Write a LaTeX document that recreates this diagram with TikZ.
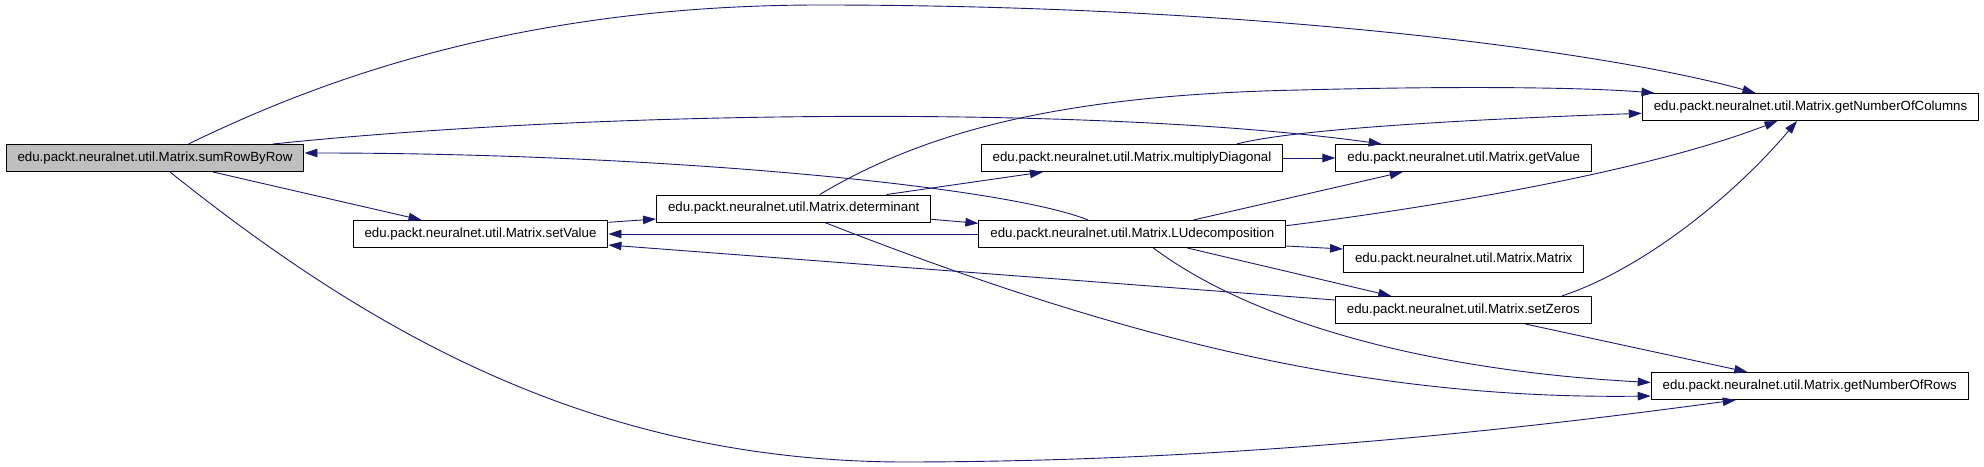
\documentclass[tikz,border=0pt]{standalone}
\usepackage{fontspec}
\setmainfont{Liberation Sans}
\usepackage{tikz}
\usetikzlibrary{arrows.meta}
\definecolor{edgeblue}{HTML}{191970}
\definecolor{callgray}{HTML}{BFBFBF}

\begin{document}
\begin{tikzpicture}[x=1pt,y=-1pt,
    method/.style={draw=black,line width=1pt,fill=white,minimum height=27pt,
        inner xsep=11.5pt,inner ysep=0pt,font=\fontsize{13.3}{16}\selectfont},
    call/.style={draw=edgeblue,line width=0.9pt,-{Triangle[length=13pt,width=8.5pt]}}]
\useasboundingbox (0,0) rectangle (1984,466);
\node[method,fill=callgray] (sum) at (155,158) {edu.packt.neuralnet.util.Matrix.sumRowByRow};
\node[method] (setv) at (480.5,234) {edu.packt.neuralnet.util.Matrix.setValue};
\node[method] (det) at (793.7,208.5) {edu.packt.neuralnet.util.Matrix.determinant};
\node[method] (mul) at (1132,158) {edu.packt.neuralnet.util.Matrix.multiplyDiagonal};
\node[method] (getv) at (1463.7,158) {edu.packt.neuralnet.util.Matrix.getValue};
\node[method] (lud) at (1132.3,234) {edu.packt.neuralnet.util.Matrix.LUdecomposition};
\node[method] (mat) at (1463.7,259) {edu.packt.neuralnet.util.Matrix.Matrix};
\node[method] (zeros) at (1463.3,310) {edu.packt.neuralnet.util.Matrix.setZeros};
\node[method] (cols) at (1810.5,107) {edu.packt.neuralnet.util.Matrix.getNumberOfColumns};
\node[method] (rows) at (1809.8,386) {edu.packt.neuralnet.util.Matrix.getNumberOfRows};

\draw[call] ([xshift=33.5pt]sum.north) .. controls (320,80) and (520,5) .. (820,5)
    .. controls (1250,5) and (1600,50) .. ([xshift=-55pt]cols.north);
\draw[call] ([xshift=118pt]sum.north) .. controls (600,110) and (1100,105) .. ([xshift=-82pt]getv.north);
\draw[call] ([xshift=-44pt]lud.north) .. controls (1000,185) and (650,153) .. ([yshift=5pt]sum.east);
\draw[call] ([xshift=58pt]sum.south) -- ([xshift=-59pt]setv.north);
\draw[call] ([xshift=15pt]sum.south) .. controls (380,340) and (600,460) .. (900,462)
    .. controls (1250,462) and (1550,425) .. ([xshift=-74pt]rows.south);
\draw[call] ([yshift=11.7pt]setv.east) -- ([yshift=-10.5pt]det.west);
\draw[call] ([xshift=26pt]det.north) .. controls (920,135) and (1050,95) .. (1300,90)
    .. controls (1450,86) and (1580,87) .. ([xshift=-156pt]cols.north);
\draw[call] ([xshift=93pt]det.north) -- ([xshift=-89pt]mul.south);
\draw[call] ([yshift=-10.8pt]det.east) -- ([yshift=10.7pt]lud.west);
\draw[call] ([xshift=31pt]det.south) .. controls (1100,330) and (1350,400) .. ([yshift=-10pt]rows.west);
\draw[call] (mul.east) -- (getv.west);
\draw[call] ([xshift=104.7pt]mul.north) .. controls (1290,130) and (1450,120) .. ([yshift=-6.3pt]cols.west);
\draw[call] (lud.west) -- (setv.east);
\draw[call] ([xshift=61pt]lud.north) -- ([xshift=-61pt]getv.south);
\draw[call] ([yshift=8.3pt]lud.east) .. controls (1450,205) and (1650,170) .. ([xshift=-33pt]cols.south);
\draw[call] ([yshift=-12pt]lud.east) -- ([yshift=10pt]mat.west);
\draw[call] ([xshift=55pt]lud.south) -- ([xshift=-72pt]zeros.north);
\draw[call] ([xshift=21pt]lud.south) .. controls (1250,320) and (1420,370) .. ([yshift=3.5pt]rows.west);
\draw[call] ([yshift=10pt]zeros.west) -- ([yshift=-11pt]setv.east);
\draw[call] ([xshift=98.5pt]zeros.north) .. controls (1640,270) and (1730,200) .. ([xshift=-13.5pt]cols.south);
\draw[call] ([xshift=62pt]zeros.south) -- ([xshift=-62.5pt]rows.north);
\end{tikzpicture}
\end{document}
